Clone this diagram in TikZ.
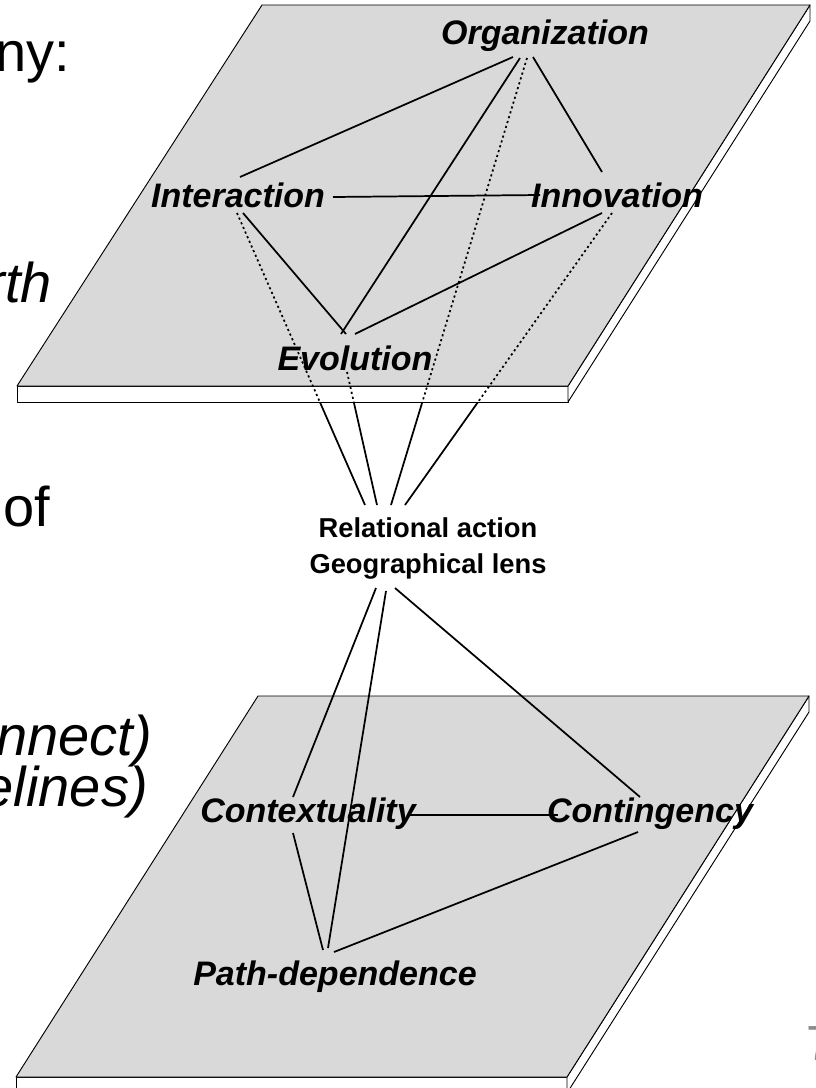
\documentclass[tikz,border=0pt]{standalone}
\usepackage{fontspec}
\setmainfont{Liberation Sans}
\definecolor{plategray}{gray}{0.85}
\definecolor{pagegray}{gray}{0.55}
\newcommand\hiddenlink[2]{%
  \begin{scope}\clip (0,0) rectangle (816,402); \draw[hidden] (#1) -- (#2); \end{scope}
  \begin{scope}\clip (0,402) rectangle (816,1088); \draw[link] (#1) -- (#2); \end{scope}}
\begin{document}
\begin{tikzpicture}[x=0.75pt,y=-0.75pt,
  plate/.style={fill=plategray,draw=black,line width=0.7pt,line join=round},
  face/.style={fill=white,draw=black,line width=0.7pt,line join=round},
  lbl/.style={font=\fontsize{25.5}{30}\selectfont\bfseries\itshape,inner sep=0pt,anchor=base},
  hub/.style={font=\fontsize{20.5}{24}\selectfont\bfseries,inner sep=0pt,anchor=base},
  side/.style={font=\fontsize{42}{48}\selectfont,inner sep=0pt,anchor=base east},
  sideit/.style={side,font=\fontsize{42}{48}\selectfont\itshape},
  link/.style={line width=1.3pt},
  hidden/.style={line width=1.3pt,dash pattern=on 1.6pt off 2.2pt}]
\useasboundingbox (0,0) rectangle (816,1088);
\clip (0,0) rectangle (816,1088);

% left-hand text fragments
\node[side] (t1) at (70,72) {ny:};
\node[sideit] (t2) at (52,302) {rth};
\node[side] (t3) at (50,526) {of};
\node[sideit] (t4) at (152,755) {onnect)};
\node[sideit] (t5) at (148,806) {elines)};
\node[anchor=base west,inner sep=0pt,text=pagegray,font=\fontsize{37}{44}\selectfont] (pg) at (806,1060) {7};

% upper plate
\draw[face] (17,386) -- (568,386) -- (568,402) -- (17,402) -- cycle;
\draw[face] (568,386) -- (810,5) -- (810,21) -- (568,402) -- cycle;
\draw[plate] (262,5) -- (810,5) -- (568,386) -- (17,386) -- cycle;

% lower plate
\draw[face] (16,1077) -- (567,1077) -- (567,1093) -- (16,1093) -- cycle;
\draw[face] (567,1077) -- (809,696) -- (809,712) -- (567,1093) -- cycle;
\draw[plate] (258,696) -- (809,696) -- (567,1077) -- (16,1077) -- cycle;

% labels
\node[lbl] (org) at (545,45) {Organization};
\node[lbl] (int) at (238,207) {Interaction};
\node[lbl] (inn) at (617,207) {Innovation};
\node[lbl] (evo) at (355,370) {Evolution};
\node[hub] (rel1) at (428,537) {Relational action};
\node[hub] (rel2) at (428,573) {Geographical lens};
\node[lbl] (ctx) at (308,822) {Contextuality};
\node[lbl] (ctg) at (650,822) {Contingency};
\node[lbl] (pth) at (335,985) {Path-dependence};

% connector end points
\coordinate (orgA) at (513,57);
\coordinate (orgB) at (520,58);
\coordinate (orgC) at (527,58);
\coordinate (orgD) at (533,57);
\coordinate (intA) at (240,177);
\coordinate (intB) at (243,213);
\coordinate (intC) at (237,213);
\coordinate (intD) at (333,197);
\coordinate (innA) at (602,172);
\coordinate (innB) at (602,213);
\coordinate (innC) at (612,213);
\coordinate (innD) at (540,195);
\coordinate (evoA) at (341,334);
\coordinate (evoB) at (346,334);
\coordinate (evoC) at (355,334);
\coordinate (evoD) at (347,372);
\coordinate (relI) at (365,505);
\coordinate (relE) at (377,505);
\coordinate (relO) at (391,505);
\coordinate (relN) at (405,505);
\coordinate (relX) at (376,588);
\coordinate (relP) at (386,591);
\coordinate (relG) at (395,588);
\coordinate (ctxA) at (293,797);
\coordinate (ctxB) at (293,833);
\coordinate (ctxC) at (410,815);
\coordinate (ctgA) at (640,797);
\coordinate (ctgB) at (638,832);
\coordinate (ctgC) at (558,815);
\coordinate (pthA) at (323,950);
\coordinate (pthB) at (328,948);
\coordinate (pthC) at (334,952);

% upper plate connectors
\draw[link] (orgA) -- (intA);
\draw[link] (orgB) -- (evoA);
\draw[link] (orgD) -- (innA);
\draw[link] (intB) -- (evoB);
\draw[link] (intD) -- (innD);
\draw[link] (innB) -- (evoC);

% hidden connectors to the hub
\hiddenlink{intC}{relI}
\hiddenlink{evoD}{relE}
\hiddenlink{orgC}{relO}
\hiddenlink{innC}{relN}

% lower plate connectors
\draw[link] (relX) -- (ctxA);
\draw[link] (relP) -- (pthB);
\draw[link] (relG) -- (ctgA);
\draw[link] (ctxC) -- (ctgC);
\draw[link] (ctxB) -- (pthA);
\draw[link] (ctgB) -- (pthC);
\end{tikzpicture}
\end{document}
